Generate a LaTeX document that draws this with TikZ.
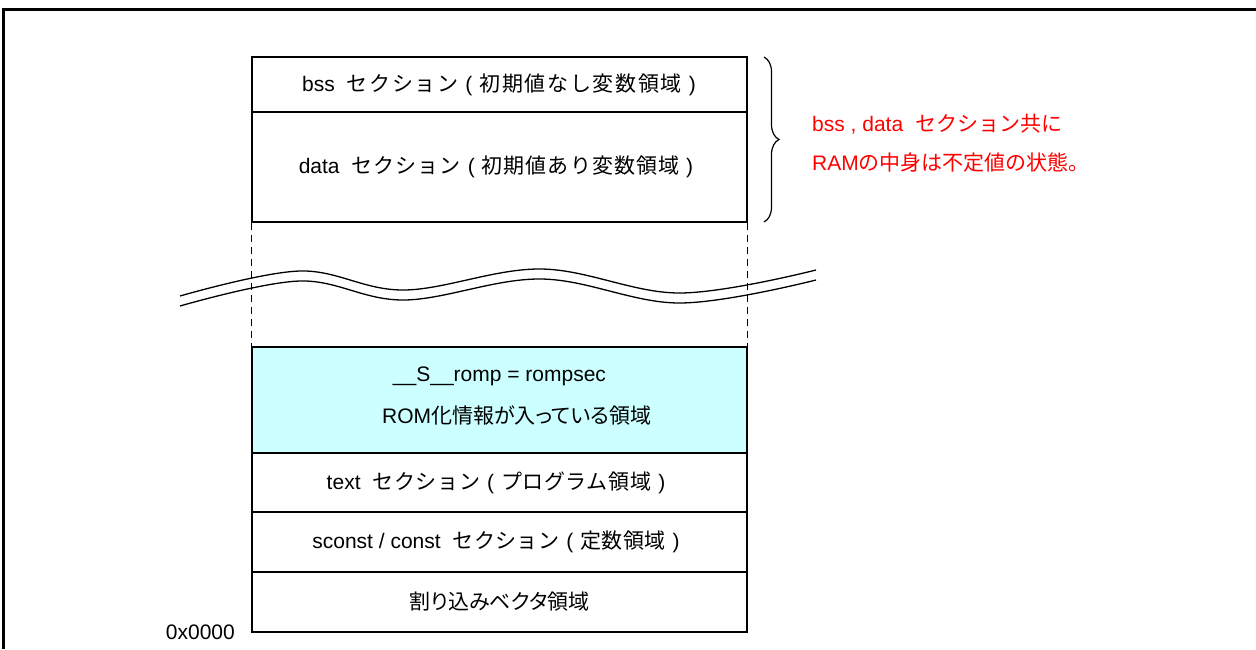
\documentclass[tikz,border=0pt]{standalone}
\usepackage{fontspec}
\setmainfont{Liberation Sans}
\newfontfamily\jp{Noto Sans CJK JP}
\newfontfamily\jpp[RawFeature=+palt]{Noto Sans CJK JP}
\newfontfamily\jpa[LetterSpace=8]{Noto Sans CJK JP}
\newfontfamily\jpb[LetterSpace=5]{Noto Sans CJK JP}
\newfontfamily\jpc[LetterSpace=3]{Noto Sans CJK JP}
\newfontfamily\jpd[LetterSpace=2]{Noto Sans CJK JP}
\usetikzlibrary{decorations.pathreplacing}
\definecolor{romcyan}{RGB}{204,255,255}
\tikzset{
  sec/.style={draw=black, line width=1.3pt, minimum width=495pt, inner sep=0pt, align=center,
              font=\fontsize{21}{39}\selectfont},
  lbl/.style={inner sep=0pt, font=\fontsize{21}{39}\selectfont},
  dashline/.style={line width=1.2pt, dash pattern=on 7pt off 5pt},
  wave/.style={line width=1.3pt},
}
\newcommand{\gap}{\hspace{12pt}}
\newcommand{\lp}{\makebox[21pt]{(}}
\newcommand{\rp}{\makebox[21pt]{)}}
\begin{document}
\begin{tikzpicture}[x=1pt,y=-1pt]
\useasboundingbox (0,0) rectangle (1256,649);
% frame
\draw[line width=3pt] (3,649) -- (3,9) -- (1256,9);
% RAM sections
\node[sec, minimum height=55pt] (bss) at (499.5,84.5) {\hspace{6pt}bss\gap{\jpa セクション}\lp{\jpa 初期値なし変数領域}\rp};
\node[sec, minimum height=110pt] (data) at (499.5,167) {data\gap{\jpb セクション}\lp{\jpb 初期値あり変数領域}\rp};
% ROM sections
\node[sec, minimum height=106pt, fill=romcyan] (romp) at (499.5,400) {};
\node[lbl] (romp1) at (499.5,376) {\_\_S\_\_romp = rompsec};
\node[lbl, anchor=west] (romp2) at (382,415) {ROM{\jpp 化情報が入っている領域}};
\node[sec, minimum height=59pt] (text) at (499.5,482.5) {text\gap{\jpc セクション}\lp{\jpc プログラム領域}\rp};
\node[sec, minimum height=60pt] (sconst) at (499.5,542) {sconst / const\gap{\jpd セクション}\lp{\jpd 定数領域}\rp};
\node[sec, minimum height=60pt] (vec) at (499.5,602) {{\jpp 割り込みベクタ領域}};
% dashed continuation
\draw[dashline] (data.south west) -- (romp.north west);
\draw[dashline] (data.south east) -- (romp.north east);
% break mark
\draw[wave] plot[smooth, tension=0.6] coordinates {(180,296) (300,271) (404,290) (541,269) (679,293) (816,270)};
\draw[wave] plot[smooth, tension=0.6] coordinates {(180,306) (300,281) (404,300) (541,279) (679,303) (816,280)};
% address label
\node[lbl, anchor=east] (addr) at (235,632) {0x0000};
% brace
\coordinate (bt) at (764,57);
\coordinate (bb) at (764,222);
\draw[line width=1.2pt, decorate, decoration={brace, amplitude=15pt}] (bt) -- (bb);
\node[lbl, anchor=west, align=left, text=red] (note) at (812,143)
  {bss , data\gap{\jp セクション共に}\\RAM{\jp の中身は不定値の状態。}};
\end{tikzpicture}
\end{document}
